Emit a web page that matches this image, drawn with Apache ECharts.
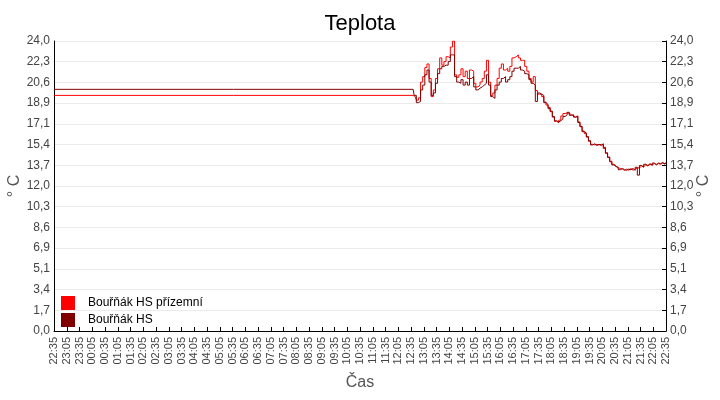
<!DOCTYPE html>
<html><head><meta charset="utf-8">
<script src="https://cdn.jsdelivr.net/npm/echarts@6/dist/echarts.min.js"></script>
<style>html,body{margin:0;padding:0;background:#fff}#c{width:720px;height:400px}</style>
</head><body><div id="c"></div>
<script>
const titleText = 'Teplota';
const xAxisName = 'Čas';
const yAxisName = '° C';
const seriesNames = ['Bouřňák HS přízemní', 'Bouřňák HS'];
const seriesColors = ['#ff0000', '#800000'];
// x axis: minutes after 22:35 (start of window), 24 h span, labels every 30 min
const axisStartClock = 22 * 60 + 35;
const axisSpanMinutes = 1440;
const axisLabelStep = 30;
// y axis
const yMin = 0, yMax = 24, ySteps = 14;

// sample times: first reading at 22:35, then readings from 12:40 to 22:35 every 5 min
const sampleMinutes = [0].concat(Array.from({length: 120}, (_, i) => 845 + 5 * i));

const prizemni = [19.5,
  19.5, 19.4, 19.1, 19.3, 20.6, 21.05, 21.8, 22.1, 20.9, 19.4,
  19.95, 20.9, 21.7, 22.6, 22.0, 22.3, 22.7, 22.6, 23.5, 24.0,
  21.2, 21.0, 21.2, 21.7, 21.05, 21.5, 20.9, 21.6, 21.5, 20.5,
  20.2, 20.35, 20.6, 20.9, 21.5, 22.4, 20.6, 19.5, 19.7, 20.35,
  20.9, 21.75, 22.1, 21.6, 21.75, 21.5, 21.9, 22.6, 22.7, 22.85,
  22.6, 22.4, 22.4, 21.9, 21.5, 20.9, 20.6, 21.05, 19.9, 19.6,
  19.6, 19.4, 18.95, 18.7, 18.5, 18.15, 17.7, 17.35, 17.25, 17.45,
  17.8, 18.0, 18.05, 18.0, 17.9, 17.8, 17.7, 17.75, 17.3, 16.9,
  16.55, 16.35, 16.1, 15.7, 15.45, 15.4, 15.45, 15.4, 15.45, 15.4,
  15.1, 14.7, 14.35, 14.0, 13.8, 13.65, 13.5, 13.45, 13.4, 13.3,
  13.4, 13.3, 13.45, 13.3, 13.4, 13.5, 13.5, 13.65, 13.6, 13.75,
  13.65, 13.8, 13.75, 13.85, 13.8, 13.85, 13.8, 13.9, 13.85, 13.9];

const hs = [20.0,
  20.0, 19.5, 18.9, 19.0, 19.95, 20.35, 21.2, 21.6, 20.6, 19.5,
  19.7, 20.5, 21.3, 21.7, 21.9, 22.0, 22.0, 22.3, 22.85, 22.85,
  21.05, 20.6, 20.5, 20.8, 20.35, 20.6, 20.35, 20.9, 21.05, 20.2,
  19.95, 20.1, 20.2, 20.35, 20.5, 21.2, 20.35, 19.4, 19.25, 19.95,
  20.35, 20.6, 20.9, 21.05, 20.6, 20.8, 21.05, 21.5, 21.75, 21.75,
  21.9, 21.6, 21.5, 21.3, 21.2, 20.8, 20.5, 20.35, 19.0, 19.7,
  19.6, 19.5, 18.9, 18.75, 18.4, 18.2, 17.75, 17.4, 17.3, 17.4,
  17.55, 17.75, 17.9, 18.1, 17.85, 17.9, 17.7, 17.8, 17.25, 16.95,
  16.5, 16.4, 16.05, 15.75, 15.4, 15.5, 15.35, 15.45, 15.35, 15.5,
  15.2, 14.75, 14.4, 14.05, 13.75, 13.6, 13.55, 13.35, 13.45, 13.35,
  13.3, 13.4, 13.35, 13.45, 13.3, 13.55, 12.9, 13.7, 13.55, 13.8,
  13.7, 13.85, 13.7, 13.9, 13.75, 13.9, 13.85, 13.95, 13.8, 13.95];

const FONT = "'Liberation Sans', Arial, sans-serif";
function clock(m) {
  const t = (axisStartClock + m) % 1440;
  const h = Math.floor(t / 60), mm = t % 60;
  return String(h).padStart(2, '0') + ':' + String(mm).padStart(2, '0');
}
function pairs(vals) { return vals.map((v, i) => [sampleMinutes[i], v]); }

const yAxisCommon = {
  type: 'value', min: yMin, max: yMax, interval: (yMax - yMin) / ySteps,
  name: yAxisName, nameLocation: 'middle', nameRotate: 90, nameMoveOverlap: false,
  nameTextStyle: {fontSize: 16, color: '#555', fontFamily: FONT},
  axisLine: {show: true, lineStyle: {color: '#000', width: 1}},
  axisLabel: {fontSize: 12, color: '#444', fontFamily: FONT, margin: 4,
    formatter: v => v.toFixed(1).replace('.', ',')}
};

const chart = echarts.init(document.getElementById('c'), null, {renderer: 'canvas'});
chart.setOption({
  animation: false,
  backgroundColor: '#fff',
  title: {text: titleText, left: 'center', top: 8,
    textStyle: {fontSize: 22, fontWeight: 'normal', color: '#000', fontFamily: FONT}},
  legend: {
    orient: 'vertical', left: 61, top: 296, itemWidth: 14, itemHeight: 14, itemGap: 3,
    icon: 'rect', padding: 0,
    formatter: n => '{g|}' + n,
    textStyle: {fontSize: 12, color: '#000', fontFamily: FONT,
      rich: {g: {width: 8}}},
    data: seriesNames
  },
  grid: {left: 54, right: 54, top: 41, bottom: 69, containLabel: false, outerBoundsMode: 'none'},
  xAxis: {
    type: 'value', min: 0, max: axisSpanMinutes, interval: axisLabelStep,
    name: xAxisName, nameLocation: 'middle', nameGap: 44, nameMoveOverlap: false,
    nameTextStyle: {fontSize: 16, color: '#555', fontFamily: FONT},
    axisLine: {lineStyle: {color: '#000', width: 1}},
    axisTick: {inside: true, length: 4, lineStyle: {color: '#000'}},
    axisLabel: {rotate: 90, fontSize: 11, color: '#444', fontFamily: FONT, margin: 6,
      showMinLabel: true, showMaxLabel: true, formatter: v => clock(v)},
    splitLine: {show: false}
  },
  yAxis: [
    Object.assign({}, yAxisCommon, {position: 'left', nameGap: 31,
      axisTick: {show: false},
      splitLine: {show: true, lineStyle: {color: '#ebebeb', width: 1}}}),
    Object.assign({}, yAxisCommon, {position: 'right', nameGap: 30,
      axisTick: {show: true, inside: true, length: 4, lineStyle: {color: '#000'}},
      splitLine: {show: false}})
  ],
  series: [
    {name: seriesNames[0], type: 'line', data: pairs(prizemni), showSymbol: false, step: 'middle',
      color: seriesColors[0], lineStyle: {width: 1, color: seriesColors[0]}, yAxisIndex: 0},
    {name: seriesNames[1], type: 'line', data: pairs(hs), showSymbol: false, step: 'middle',
      color: seriesColors[1], lineStyle: {width: 1, color: seriesColors[1]}, yAxisIndex: 0}
  ]
});
</script></body></html>
